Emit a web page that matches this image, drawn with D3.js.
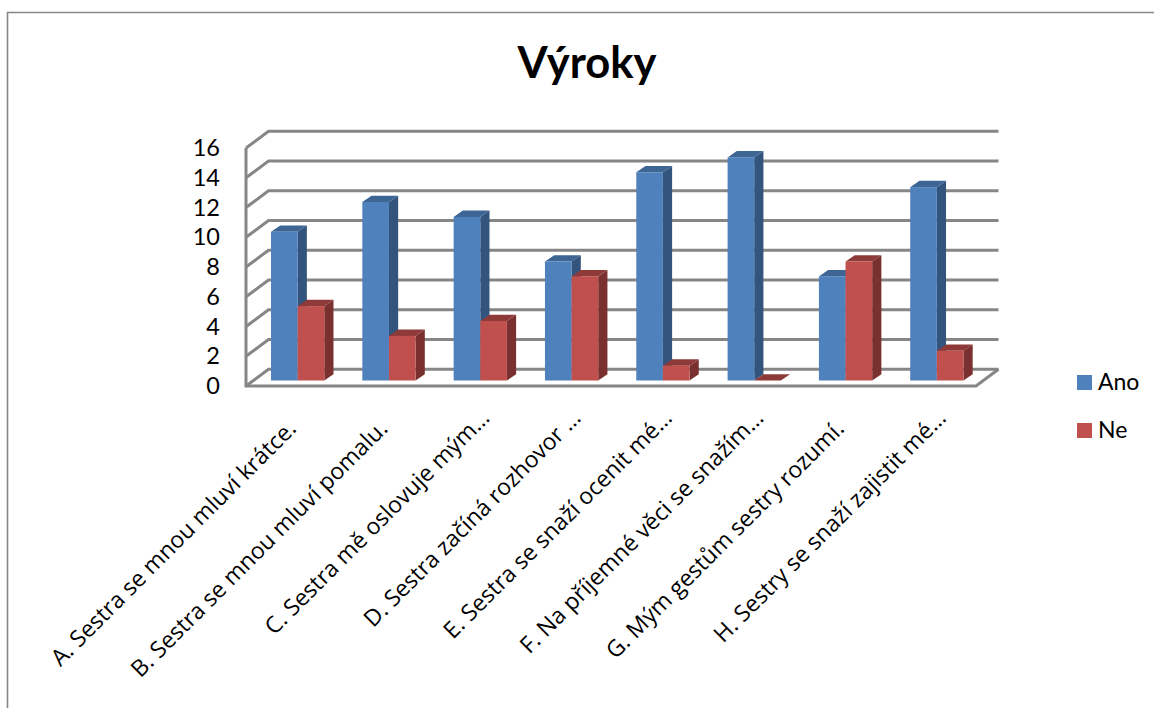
<!DOCTYPE html>
<html lang="cs">
<head>
<meta charset="utf-8">
<title>Výroky</title>
<script src="https://cdn.jsdelivr.net/npm/d3@7/dist/d3.min.js"></script>
<style>
  html, body { margin: 0; padding: 0; background: #fff; }
  svg { display: block; }
  text { font-family: Lato, "Open Sans", sans-serif; fill: #000; }
</style>
</head>
<body>
<svg id="chart" width="1154" height="708"></svg>
<script>
// Chart content
const chartTitle = "Výroky";
const categories = [
  "A. Sestra se mnou mluví krátce.",
  "B. Sestra se mnou mluví pomalu.",
  "C. Sestra mě oslovuje mým…",
  "D. Sestra začíná rozhovor …",
  "E. Sestra se snaží ocenit mé…",
  "F. Na příjemné věci se snažím…",
  "G. Mým gestům sestry rozumí.",
  "H. Sestry se snaží zajistit mé…"
];
const seriesNames = ["Ano", "Ne"];
const ano = [10, 12, 11, 8, 14, 15, 7, 13];
const ne = [5, 3, 4, 7, 1, 0, 8, 2];
const yTicks = [0, 2, 4, 6, 8, 10, 12, 14, 16];

// Face colours for each series: front, side, top
const faces = {
  Ano: { front: "#4f81bd", side: "#32547d", top: "#3d6695" },
  Ne: { front: "#c0504d", side: "#7a302e", top: "#8e3a38" }
};
const gridColor = "#868686";

const svg = d3.select("#chart");
const width = 1154, height = 708;

// Front plane of the 3D box; the back wall sits at wallDx / wallDy from it
const y = d3.scaleLinear().domain([0, 16]).range([386, 148]);
const x0 = d3.scaleBand().domain(categories).range([252, 982.5])
  .paddingInner(0.4167).paddingOuter(0.2083);
const x1 = d3.scaleBand().domain(seriesNames).range([0, x0.bandwidth()]);

const frontLeft = 246, frontRight = 976;
const wallDx = 22.5, wallDy = -16.8;
const barDx = 9.2, barDy = -6.3, barLift = -5.5;

// Outer chart frame (top and left edges only)
svg.append("path")
  .attr("d", `M7.5,${height} V12.5 H${width}`)
  .attr("fill", "none").attr("stroke", gridColor).attr("stroke-width", 1.6);

// Back wall gridlines with their slanted returns on the side wall
const grid = svg.append("g").attr("fill", "none").attr("stroke", gridColor).attr("stroke-width", 3);
grid.selectAll("path.grid").data(yTicks).join("path")
  .attr("class", "grid")
  .attr("d", v => {
    const line = d3.path();
    line.moveTo(frontLeft, y(v));
    line.lineTo(frontLeft + wallDx, y(v) + wallDy);
    line.lineTo(frontRight + wallDx, y(v) + wallDy);
    return line.toString();
  });

// Left edge of the side wall and the floor outline
grid.append("path").attr("d", `M${frontLeft},${y(16)} V${y(0)} H${frontRight} L${frontRight + wallDx},${y(0) + wallDy}`);

// Bars: one group per category, blue series first so red overlaps its side face
const values = { Ano: ano, Ne: ne };
const bars = svg.append("g");
categories.forEach((cat, i) => {
  seriesNames.forEach(name => {
    const v = values[name][i];
    const left = x0(cat) + x1(name);
    const right = left + x1.bandwidth();
    const top = y(v) + barLift;
    const base = y(0) + barLift;
    const c = faces[name];
    const g = bars.append("g");
    g.append("path").attr("fill", c.side)
      .attr("d", `M${right},${top} L${right + barDx},${top + barDy} V${base + barDy} L${right},${base} Z`);
    g.append("path").attr("fill", c.top)
      .attr("d", `M${left},${top} L${left + barDx},${top + barDy} H${right + barDx} L${right},${top} Z`);
    g.append("rect").attr("fill", c.front)
      .attr("x", left).attr("y", top)
      .attr("width", right - left).attr("height", base - top);
  });
});

// Value axis
const yAxis = svg.append("g")
  .attr("transform", "translate(220,0)")
  .call(d3.axisLeft(y).tickValues(yTicks).tickSize(0).tickPadding(0));
yAxis.select(".domain").remove();
yAxis.selectAll("text").style("font-family", "Lato, sans-serif").style("font-size", "23.5px").attr("fill", "#000");

// Slanted category labels; a trailing ellipsis hangs past the label's end point
const labelFont = 23;
svg.append("g").selectAll("text").data(categories).join("text")
  .attr("transform", d => `translate(${x0(d) + x0.bandwidth() / 2},${y(0) + 44}) rotate(-45)`)
  .attr("text-anchor", "end")
  .attr("dx", d => d.endsWith("…") ? 15 : 0)
  .style("font-family", "'Open Sans', sans-serif")
  .style("font-size", labelFont + "px")
  .text(d => d);

// Title
svg.append("text")
  .attr("x", 587).attr("y", 78)
  .attr("text-anchor", "middle")
  .style("font-size", "43.5px").style("font-weight", "700")
  .text(chartTitle);

// Legend
const legend = svg.append("g");
const legendY = d3.scalePoint().domain(seriesNames).range([375, 423]);
const legendItems = legend.selectAll("g").data(seriesNames).join("g")
  .attr("transform", d => `translate(1077,${legendY(d)})`);
legendItems.append("rect")
  .attr("width", 15).attr("height", 15)
  .attr("fill", d => faces[d].front);
legendItems.append("text")
  .attr("x", 21).attr("y", 15)
  .style("font-size", "23px")
  .text(d => d);
</script>
</body>
</html>
